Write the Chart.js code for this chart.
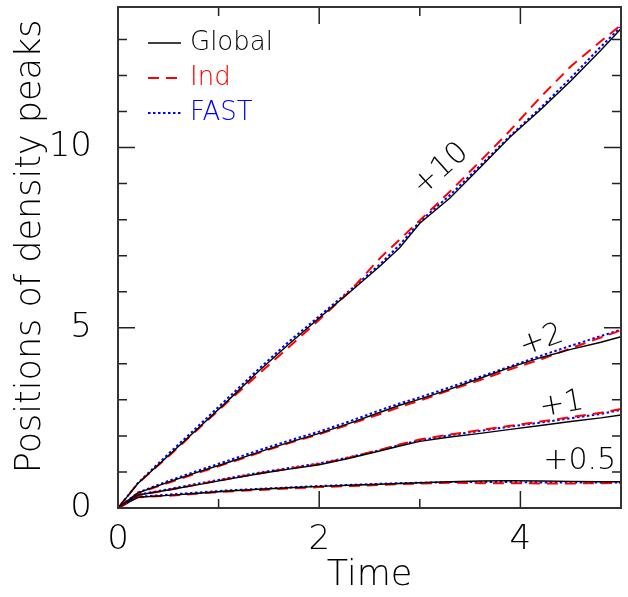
<!DOCTYPE html>
<html>
<head>
    <script src="https://cdn.jsdelivr.net/npm/chart.js"></script>
    <style>
        body { margin: 0; background: #fff; }
        #wrap { width: 628px; height: 597px; }
    </style>
</head>
<body>
<div id="wrap">
    <canvas id="peaks"></canvas>
</div>

<script>
    // time axis
    var t = [0, 0.2, 0.5, 0.8, 1.1, 1.4, 1.7, 2.0, 2.3, 2.6, 2.8, 3.0, 3.3, 3.6, 3.9, 4.2, 4.5, 4.8, 5.0];

    // +10
    var g10 = [0, 0.69, 1.45, 2.22, 3.0, 3.8, 4.55, 5.27, 5.98, 6.7, 7.22, 7.9, 8.6, 9.45, 10.3, 11.05, 11.85, 12.7, 13.3];
    var i10 = [0, 0.69, 1.43, 2.2, 2.97, 3.72, 4.47, 5.22, 6.0, 6.92, 7.45, 7.98, 8.78, 9.62, 10.48, 11.4, 12.25, 12.95, 13.4];
    var f10 = [0, 0.7, 1.5, 2.28, 3.07, 3.86, 4.62, 5.32, 6.03, 6.75, 7.3, 7.95, 8.68, 9.5, 10.33, 11.1, 11.93, 12.8, 13.35];
    // +2
    var g2 = [0, 0.42, 0.72, 1.0, 1.27, 1.55, 1.82, 2.07, 2.35, 2.65, 2.85, 3.02, 3.3, 3.6, 3.9, 4.17, 4.4, 4.6, 4.75];
    var i2 = [0, 0.42, 0.7, 0.98, 1.25, 1.53, 1.8, 2.05, 2.32, 2.6, 2.8, 2.98, 3.27, 3.55, 3.85, 4.12, 4.43, 4.73, 4.93];
    var f2 = [0, 0.43, 0.75, 1.04, 1.32, 1.6, 1.87, 2.12, 2.4, 2.71, 2.9, 3.07, 3.35, 3.64, 3.93, 4.22, 4.5, 4.77, 4.95];
    // +1
    var g1 = [0, 0.36, 0.5, 0.65, 0.8, 0.95, 1.08, 1.2, 1.38, 1.58, 1.72, 1.85, 1.97, 2.07, 2.18, 2.29, 2.4, 2.5, 2.58];
    var i1 = [0, 0.36, 0.5, 0.66, 0.81, 0.96, 1.09, 1.22, 1.4, 1.61, 1.76, 1.9, 2.04, 2.16, 2.28, 2.4, 2.52, 2.64, 2.75];
    var f1 = [0, 0.37, 0.52, 0.68, 0.83, 0.98, 1.11, 1.24, 1.41, 1.6, 1.75, 1.88, 2.02, 2.14, 2.26, 2.37, 2.49, 2.61, 2.72];
    // +0.5
    var g05 = [0, 0.3, 0.35, 0.41, 0.47, 0.52, 0.56, 0.6, 0.63, 0.66, 0.68, 0.7, 0.73, 0.75, 0.76, 0.75, 0.74, 0.73, 0.73];
    var i05 = [0, 0.3, 0.34, 0.4, 0.46, 0.5, 0.54, 0.58, 0.61, 0.64, 0.66, 0.68, 0.7, 0.69, 0.69, 0.68, 0.68, 0.69, 0.7];
    var f05 = [0, 0.31, 0.37, 0.43, 0.49, 0.53, 0.57, 0.61, 0.64, 0.67, 0.69, 0.7, 0.72, 0.72, 0.72, 0.71, 0.71, 0.71, 0.71];

    var legendNames = ['Global', 'Ind', 'FAST'];

    // curve labels (data coords)
    var noteText = ['+10', '+2', '+1', '+0.5'];
    var noteX = [3.21, 4.21, 4.41, 4.59];
    var noteY = [9.39, 4.64, 2.86, 1.31];
    var noteAngle = [-42, -20, -10, 0];

    var FONT = "'DejaVu Sans', sans-serif";

    function pts(ys) {
        return t.map(function (x, k) { return { x: x, y: ys[k] }; });
    }

    // line styles: Global / Ind / FAST
    var styles = [
        { borderColor: '#000000', borderWidth: 1.4, borderDash: [] },
        { borderColor: '#ff0000', borderWidth: 2, borderDash: [11, 7] },
        { borderColor: '#0000ff', borderWidth: 2, borderDash: [2.5, 2.5] }
    ];

    var groups = [[g10, i10, f10], [g2, i2, f2], [g1, i1, f1], [g05, i05, f05]];
    var datasets = [];
    groups.forEach(function (grp) {
        grp.forEach(function (ys, s) {
            datasets.push({
                label: legendNames[s],
                data: pts(ys),
                borderColor: styles[s].borderColor,
                borderWidth: styles[s].borderWidth,
                borderDash: styles[s].borderDash,
                pointRadius: 0,
                tension: 0,
                fill: false
            });
        });
    });

    // frame, inward ticks, legend and curve labels
    var decor = {
        id: 'decor',
        afterDraw: function (chart) {
            var ctx = chart.ctx;
            var a = chart.chartArea;
            var xs = chart.scales.x, ys = chart.scales.y;
            ctx.save();
            ctx.strokeStyle = '#222';
            ctx.lineWidth = 1.5;
            ctx.beginPath();
            for (var v = 0; v <= 5; v++) {
                var px = xs.getPixelForValue(v);
                var len = (v % 2 === 0) ? 17 : 9;
                ctx.moveTo(px, a.bottom); ctx.lineTo(px, a.bottom - len);
                ctx.moveTo(px, a.top); ctx.lineTo(px, a.top + len);
            }
            for (var w = 0; w <= 13; w++) {
                var py = ys.getPixelForValue(w);
                var l2 = (w % 5 === 0) ? 17 : 9;
                ctx.moveTo(a.left, py); ctx.lineTo(a.left + l2, py);
                ctx.moveTo(a.right, py); ctx.lineTo(a.right - l2, py);
            }
            ctx.stroke();
            ctx.lineWidth = 2;
            ctx.strokeStyle = '#333';
            ctx.strokeRect(a.left, a.top, a.right - a.left, a.bottom - a.top);

            // legend
            ctx.font = '300 26px ' + FONT;
            ctx.textBaseline = 'middle';
            ctx.textAlign = 'left';
            for (var k = 0; k < 3; k++) {
                var yy = a.top + 36 + k * 35;
                ctx.strokeStyle = styles[k].borderColor;
                ctx.lineWidth = styles[k].borderWidth;
                ctx.setLineDash(styles[k].borderDash);
                ctx.beginPath();
                ctx.moveTo(a.left + 30, yy);
                ctx.lineTo(a.left + 63, yy);
                ctx.stroke();
                ctx.setLineDash([]);
                ctx.fillStyle = styles[k].borderColor;
                ctx.fillText(legendNames[k], a.left + 72, yy);
            }

            // labels next to curves
            ctx.fillStyle = '#000';
            ctx.font = '300 30px ' + FONT;
            ctx.textAlign = 'center';
            for (var n = 0; n < noteText.length; n++) {
                ctx.save();
                ctx.translate(xs.getPixelForValue(noteX[n]), ys.getPixelForValue(noteY[n]));
                ctx.rotate(noteAngle[n] * Math.PI / 180);
                ctx.fillText(noteText[n], 0, 0);
                ctx.restore();
            }
            ctx.restore();
        }
    };

    var ctx1 = document.getElementById('peaks').getContext('2d');
    var chart = new Chart(ctx1, {
        type: 'line',
        data: { datasets: datasets },
        plugins: [decor],
        options: {
            responsive: true,
            maintainAspectRatio: false,
            animation: false,
            layout: { padding: { top: 7, right: 7, left: 0, bottom: 0 } },
            plugins: { legend: { display: false }, tooltip: { enabled: false } },
            scales: {
                x: {
                    type: 'linear',
                    min: 0, max: 5,
                    grid: { display: false, drawTicks: false },
                    border: { display: false },
                    afterFit: function (s) {
                        s.height = 89;
                        s.paddingLeft = 0; s.paddingRight = 0;
                    },
                    ticks: {
                        stepSize: 1,
                        autoSkip: false,
                        padding: 12,
                        color: '#000',
                        font: { family: FONT, size: 34, weight: 300 },
                        maxRotation: 0,
                        callback: function (v) { return (v % 2 === 0) ? String(v) : ''; }
                    },
                    title: {
                        display: true,
                        text: 'Time',
                        color: '#000',
                        padding: 0,
                        font: { family: FONT, size: 35, weight: 300 }
                    }
                },
                y: {
                    type: 'linear',
                    min: 0, max: 13.9,
                    grid: { display: false, drawTicks: false },
                    border: { display: false },
                    afterFit: function (s) {
                        s.width = 118;
                        s.paddingTop = 0; s.paddingBottom = 0;
                    },
                    ticks: {
                        stepSize: 1,
                        autoSkip: false,
                        includeBounds: false,
                        padding: 26,
                        color: '#000',
                        font: { family: FONT, size: 34, weight: 300 },
                        callback: function (v) { return (v % 5 === 0) ? String(v) : ''; }
                    },
                    title: {
                        display: true,
                        text: '  Positions of density peaks',
                        color: '#000',
                        padding: { top: 10, bottom: 0 },
                        font: { family: FONT, size: 35, weight: 300 }
                    }
                }
            }
        }
    });
</script>

</body>
</html>
